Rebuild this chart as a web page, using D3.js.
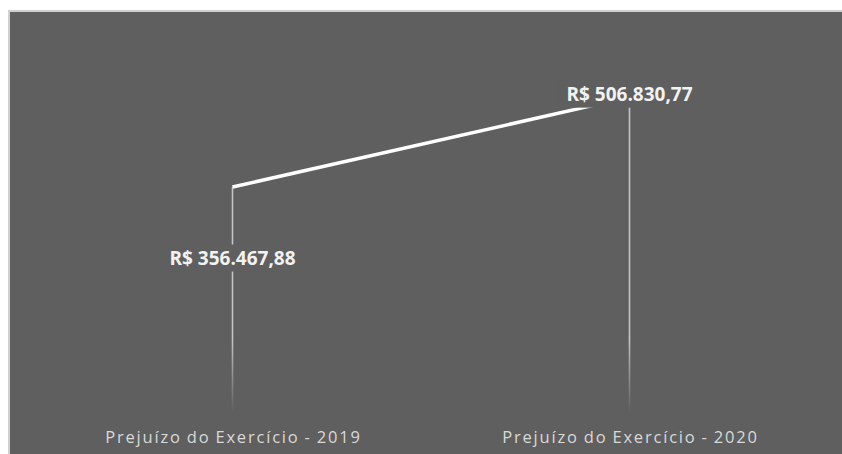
<!DOCTYPE html>
<html>
<head>
<meta charset="utf-8">
<script src="https://cdn.jsdelivr.net/npm/d3@7"></script>
<style>
  body { margin: 0; background: #ffffff; }
  svg { display: block; }
</style>
</head>
<body>
<div id="chart"></div>
<script>
// Chart data
const categories = ["Prejuízo do Exercício - 2019", "Prejuízo do Exercício - 2020"];
const values = [356467.88, 506830.77];
const valueLabels = ["R$ 356.467,88", "R$ 506.830,77"];

const W = 842, H = 454;
const plot = { left: 34, right: 828, top: 40, bottom: 400 };

const svg = d3.select("#chart")
    .append("svg")
    .attr("width", W)
    .attr("height", H);

// gradient for the drop lines, fading out at the bottom
const defs = svg.append("defs");
const grad = defs.append("linearGradient")
    .attr("id", "dropFade")
    .attr("gradientUnits", "userSpaceOnUse")
    .attr("x1", 0).attr("x2", 0)
    .attr("y1", 340).attr("y2", 412);
grad.append("stop").attr("offset", "0%").attr("stop-color", "#c4c4c4").attr("stop-opacity", 1);
grad.append("stop").attr("offset", "100%").attr("stop-color", "#c4c4c4").attr("stop-opacity", 0);

// chart area with light frame
svg.append("rect")
    .attr("x", 9)
    .attr("y", 11)
    .attr("width", W - 8)
    .attr("height", H - 10)
    .attr("fill", "#5f5f5f")
    .attr("stroke", "#d0d0d0")
    .attr("stroke-width", 2);

const x = d3.scaleBand()
    .domain(categories)
    .range([plot.left, plot.right]);

const y = d3.scaleLinear()
    .domain([0, 600000])
    .range([plot.bottom, plot.bottom - 600000 * (213 / 356467.88)]);

const data = categories.map((c, i) => ({ cat: c, value: values[i], label: valueLabels[i] }));
const cx = d => x(d.cat) + x.bandwidth() / 2;

// drop lines
svg.selectAll(".drop")
    .data(data)
    .enter()
    .append("line")
    .attr("class", "drop")
    .attr("x1", cx)
    .attr("x2", cx)
    .attr("y1", d => y(d.value))
    .attr("y2", 412)
    .attr("stroke", "url(#dropFade)")
    .attr("stroke-width", 1.6);

// main line
const line = d3.line()
    .x(cx)
    .y(d => y(d.value));

svg.append("path")
    .datum(data)
    .attr("d", line)
    .attr("fill", "none")
    .attr("stroke", "#ffffff")
    .attr("stroke-width", 3.5);

// value labels (boxes hide the lines behind them)
const labelOffset = [71, -3];
const lab = svg.selectAll(".vlabel")
    .data(data)
    .enter()
    .append("g")
    .attr("class", "vlabel")
    .attr("transform", (d, i) => "translate(" + cx(d) + "," + (y(d.value) + labelOffset[i]) + ")");

lab.append("rect")
    .attr("x", -70)
    .attr("y", -13.5)
    .attr("width", 140)
    .attr("height", 27)
    .attr("fill", "#5f5f5f");

lab.append("text")
    .attr("text-anchor", "middle")
    .attr("dy", "0.36em")
    .attr("font-family", "'Open Sans', sans-serif")
    .attr("font-weight", "bold")
    .attr("font-size", 19)
    .attr("fill", "#f2f2f2")
    .text(d => d.label);

// category labels
svg.selectAll(".cat")
    .data(data)
    .enter()
    .append("text")
    .attr("class", "cat")
    .attr("x", d => cx(d) + 1)
    .attr("y", 443)
    .attr("text-anchor", "middle")
    .attr("font-family", "'Open Sans', sans-serif")
    .attr("font-size", 16.5)
    .attr("letter-spacing", 1.8)
    .attr("word-spacing", -1)
    .attr("fill", "#d9d9d9")
    .text(d => d.cat);
</script>
</body>
</html>
